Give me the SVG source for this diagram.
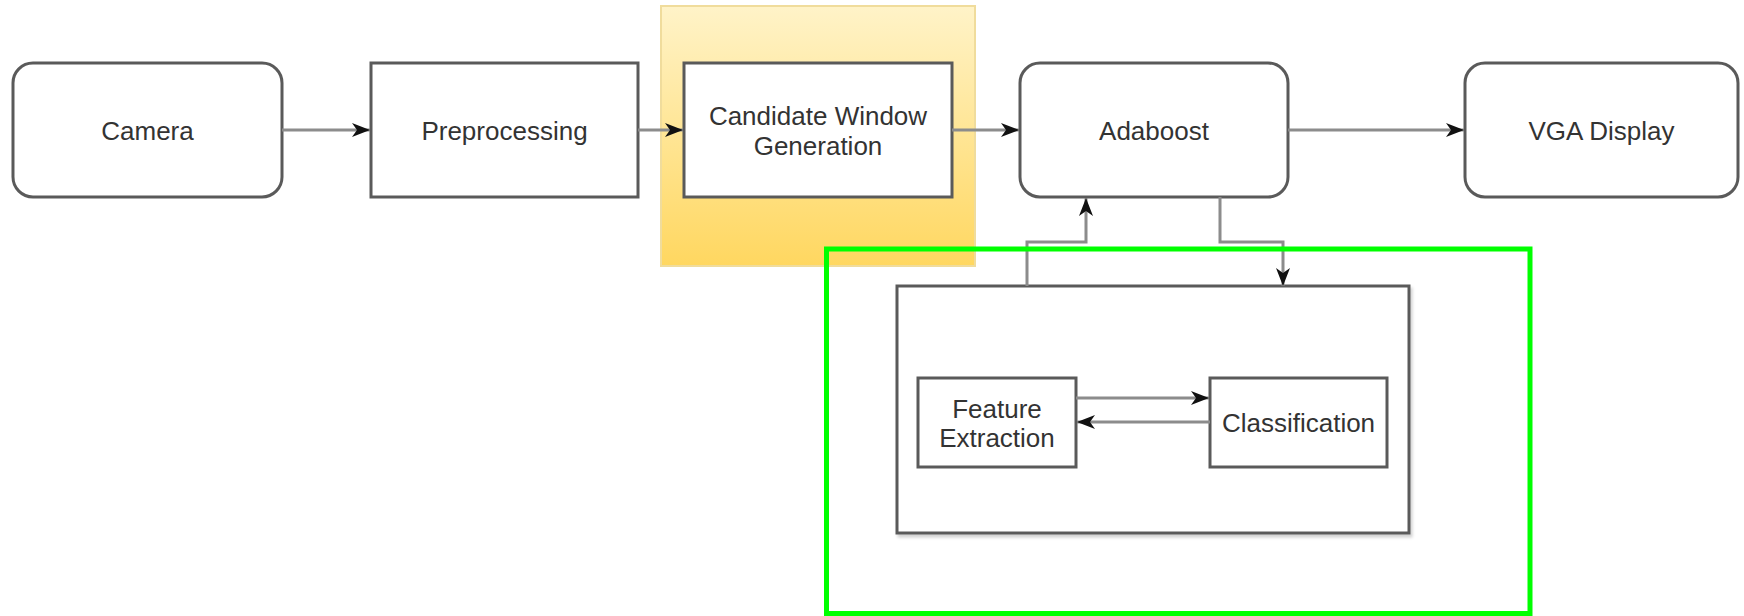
<svg xmlns="http://www.w3.org/2000/svg" width="1744" height="616" viewBox="0 0 1744 616">
  <defs>
    <linearGradient id="hl" x1="0" y1="0" x2="0" y2="1">
      <stop offset="0" stop-color="#fff3c8"/>
      <stop offset="1" stop-color="#ffd760"/>
    </linearGradient>
    <marker id="arr" markerUnits="userSpaceOnUse" markerWidth="20" markerHeight="16" refX="18" refY="7" orient="auto">
      <path d="M0,0 L18,7 L0,14 L5,7 Z" fill="#111"/>
    </marker>
    <filter id="sh" x="-5%" y="-5%" width="115%" height="115%">
      <feDropShadow dx="2" dy="3" stdDeviation="1.5" flood-color="#000" flood-opacity="0.18"/>
    </filter>
  </defs>
  <style>
    .box { fill: #ffffff; stroke: #5a5a5a; stroke-width: 3; }
    .lbl { font-family: "Liberation Sans", Arial, sans-serif; font-size: 26px; fill: #333333; text-anchor: middle; }
    .edge { fill: none; stroke: #8c8c8c; stroke-width: 3; marker-end: url(#arr); }
  </style>
  <rect width="1744" height="616" fill="#ffffff"/>

  <!-- highlight behind the window-generation stage -->
  <rect id="highlight" x="661" y="6" width="314" height="260" fill="url(#hl)" stroke="#f0dc9c" stroke-width="2"/>

  <g id="camera">
    <rect class="box" x="13" y="63" width="269" height="134" rx="20"/>
    <text class="lbl" x="147.5" y="140">Camera</text>
  </g>
  <g id="preprocessing">
    <rect class="box" x="371" y="63" width="267" height="134"/>
    <text class="lbl" x="504.5" y="140">Preprocessing</text>
  </g>
  <g id="candidate">
    <rect class="box" x="684" y="63" width="268" height="134"/>
    <text class="lbl" x="818" y="125">Candidate Window</text>
    <text class="lbl" x="818" y="155">Generation</text>
  </g>
  <g id="adaboost">
    <rect class="box" x="1020" y="63" width="268" height="134" rx="20"/>
    <text class="lbl" x="1154" y="140">Adaboost</text>
  </g>
  <g id="vga">
    <rect class="box" x="1465" y="63" width="273" height="134" rx="20"/>
    <text class="lbl" x="1601.5" y="140">VGA Display</text>
  </g>

  <g id="container">
    <rect class="box" x="897" y="286" width="512" height="247" filter="url(#sh)"/>
  </g>
  <g id="feature">
    <rect class="box" x="918" y="378" width="158" height="89"/>
    <text class="lbl" x="997" y="418">Feature</text>
    <text class="lbl" x="997" y="447">Extraction</text>
  </g>
  <g id="classification">
    <rect class="box" x="1210" y="378" width="177" height="89"/>
    <text class="lbl" x="1298.5" y="432">Classification</text>
  </g>

  <g id="connectors">
    <path class="edge" d="M282,130 H370"/>
    <path class="edge" d="M638,130 H683"/>
    <path class="edge" d="M952,130 H1019"/>
    <path class="edge" d="M1288,130 H1464"/>
    <path class="edge" d="M1027,286 V242 H1086 V198"/>
    <path class="edge" d="M1220,197 V242 H1283 V286"/>
    <path class="edge" d="M1076,398 H1209"/>
    <path class="edge" d="M1210,422 H1077"/>
  </g>

  <!-- selection frame -->
  <rect id="selection" x="826.5" y="249" width="703.5" height="364.5" fill="none" stroke="#00ff00" stroke-width="5"/>
</svg>
